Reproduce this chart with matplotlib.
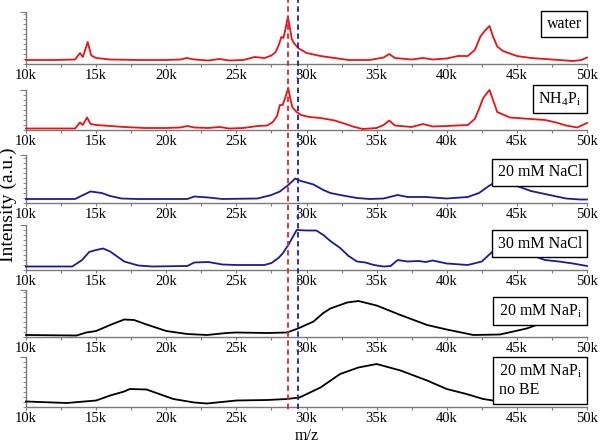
import matplotlib
matplotlib.use("Agg")
import matplotlib.pyplot as plt
from matplotlib.ticker import MultipleLocator, FuncFormatter, FixedLocator
from matplotlib.transforms import blended_transform_factory
import numpy as np

plt.rcParams['font.family'] = ['Liberation Serif', 'DejaVu Serif']
plt.rcParams['mathtext.fontset'] = 'stix'

# m/z in thousands, heights in units of 50 px above each panel's axis
waterX = [10.0, 12.0, 13.5, 13.85, 14.05, 14.4, 14.65, 15.0, 16.0, 18.0, 20.0, 21.0, 21.45, 22.0, 23.0, 23.8,
          24.5, 25.5, 26.3, 27.0, 27.5, 27.8, 28.05, 28.2, 28.35, 28.5, 28.67, 28.8, 28.95, 29.1, 29.4, 30.0,
          31.0, 32.0, 33.0, 34.5, 35.5, 35.9, 36.3, 37.5, 38.3, 39.0, 40.0, 40.8, 41.5, 42.0, 42.4, 42.7,
          43.05, 43.3, 43.6, 44.0, 45.0, 46.0, 47.0, 48.0, 49.0, 49.6, 50.0]
waterY = [0.08, 0.08, 0.09, 0.22, 0.14, 0.44, 0.17, 0.12, 0.09, 0.08, 0.08, 0.09, 0.12, 0.09, 0.07, 0.10,
          0.07, 0.08, 0.14, 0.12, 0.17, 0.24, 0.40, 0.54, 0.52, 0.70, 0.94, 0.75, 0.50, 0.42, 0.32, 0.22,
          0.16, 0.12, 0.08, 0.08, 0.13, 0.20, 0.12, 0.09, 0.12, 0.09, 0.11, 0.16, 0.16, 0.28, 0.55, 0.66,
          0.76, 0.55, 0.35, 0.26, 0.16, 0.12, 0.10, 0.08, 0.06, 0.08, 0.13]

nh4X = [10.0, 13.5, 13.85, 14.05, 14.35, 14.6, 15.0, 16.0, 17.0, 18.5, 20.0, 21.0, 21.5, 22.0, 23.0, 23.8,
        24.5, 25.5, 26.5, 27.2, 27.6, 27.9, 28.1, 28.3, 28.5, 28.7, 28.85, 29.0, 29.3, 29.6, 30.2, 31.0,
        32.0, 32.8, 33.3, 34.0, 35.0, 35.5, 35.9, 36.3, 37.5, 38.3, 39.0, 40.0, 41.5, 42.0, 42.3, 42.6,
        42.9, 43.05, 43.3, 43.6, 44.5, 46.0, 47.0, 47.8, 48.5, 49.3, 50.0]
nh4Y = [0.03, 0.03, 0.15, 0.10, 0.25, 0.12, 0.10, 0.08, 0.06, 0.04, 0.04, 0.05, 0.08, 0.05, 0.04, 0.06,
        0.03, 0.04, 0.08, 0.09, 0.16, 0.28, 0.50, 0.50, 0.66, 0.84, 0.62, 0.45, 0.36, 0.30, 0.26, 0.24,
        0.19, 0.12, 0.07, 0.02, 0.04, 0.10, 0.19, 0.09, 0.06, 0.12, 0.07, 0.08, 0.10, 0.22, 0.42, 0.64,
        0.75, 0.80, 0.60, 0.36, 0.25, 0.22, 0.20, 0.15, 0.09, 0.05, 0.14]

nacl20X = [10.0, 13.5, 14.0, 14.6, 15.4, 16.0, 16.8, 18.0, 21.5, 22.0, 23.0, 24.0, 26.5, 27.5, 28.1, 28.7,
           29.2, 29.6, 30.0, 30.5, 31.2, 31.7, 32.4, 33.6, 34.5, 35.5, 36.5, 37.2, 38.5, 40.0, 41.5, 42.3,
           43.0, 43.7, 44.4, 45.0, 46.0, 47.5, 48.5, 49.5, 50.0]
nacl20Y = [0.08, 0.08, 0.15, 0.23, 0.20, 0.14, 0.09, 0.08, 0.08, 0.13, 0.11, 0.08, 0.09, 0.16, 0.23, 0.36,
           0.49, 0.44, 0.41, 0.37, 0.26, 0.20, 0.16, 0.10, 0.08, 0.09, 0.16, 0.12, 0.12, 0.09, 0.12, 0.20,
           0.34, 0.46, 0.38, 0.34, 0.24, 0.15, 0.09, 0.07, 0.07]

nacl30X = [10.0, 13.3, 14.0, 14.5, 15.0, 15.5, 16.0, 17.0, 18.0, 19.0, 21.5, 22.0, 23.0, 24.0, 25.0, 27.0,
           27.5, 28.0, 28.3, 28.7, 29.3, 30.0, 30.7, 31.2, 31.7, 32.4, 33.0, 33.6, 34.2, 34.8, 35.5, 36.0,
           36.5, 37.2, 38.0, 38.5, 39.0, 40.0, 41.5, 42.5, 43.0, 44.0, 45.0, 46.0, 47.0, 48.0, 49.0, 50.0]
nacl30Y = [0.07, 0.07, 0.20, 0.36, 0.40, 0.43, 0.37, 0.17, 0.09, 0.07, 0.08, 0.15, 0.16, 0.11, 0.10, 0.10,
           0.14, 0.24, 0.33, 0.50, 0.80, 0.79, 0.79, 0.70, 0.58, 0.44, 0.28, 0.17, 0.15, 0.10, 0.07, 0.08,
           0.20, 0.17, 0.18, 0.16, 0.19, 0.13, 0.10, 0.17, 0.30, 0.55, 0.52, 0.30, 0.20, 0.17, 0.13, 0.08]

napiX = [10.0, 13.6, 14.3, 15.0, 16.0, 17.0, 17.7, 18.6, 20.0, 21.5, 22.9, 24.3, 25.0, 27.2, 28.6, 29.4,
         30.5, 31.2, 31.7, 32.4, 32.9, 33.7, 35.0, 36.7, 38.6, 40.0, 41.9, 43.8, 45.7, 46.7, 48.0, 50.0]
napiY = [0.04, 0.03, 0.09, 0.12, 0.24, 0.35, 0.34, 0.25, 0.12, 0.06, 0.04, 0.08, 0.09, 0.08, 0.09, 0.17,
         0.31, 0.48, 0.57, 0.64, 0.69, 0.72, 0.63, 0.44, 0.24, 0.15, 0.04, 0.05, 0.17, 0.27, 0.40, 0.55]

nobeX = [10.0, 12.9, 15.0, 16.0, 17.0, 17.4, 18.6, 19.6, 20.5, 22.0, 22.9, 25.0, 27.2, 28.6, 29.5, 31.0,
         32.4, 33.7, 35.0, 36.7, 38.6, 40.0, 41.4, 42.6, 44.0, 46.0, 48.0, 50.0]
nobeY = [0.11, 0.08, 0.13, 0.23, 0.31, 0.36, 0.35, 0.25, 0.16, 0.09, 0.07, 0.13, 0.14, 0.16, 0.19, 0.39,
         0.66, 0.79, 0.86, 0.73, 0.53, 0.36, 0.26, 0.16, 0.10, 0.15, 0.25, 0.36]

seriesX = [waterX, nh4X, nacl20X, nacl30X, napiX, nobeX]
seriesY = [waterY, nh4Y, nacl20Y, nacl30Y, napiY, nobeY]
labels = ["water", r"NH$_\mathregular{4}$P$_\mathregular{i}$", "20 mM NaCl", "30 mM NaCl",
          r"20 mM NaP$_\mathregular{i}$", "20 mM NaP$_\\mathregular{i}$\nno BE"]
colours = ["#ee1111", "#ee1111", "#1a1a9c", "#1a1a9c", "black", "black"]

vLinePositions = [28.7, 29.4]
vLineColours = ["#e02525", "#1f1fa8"]

# panel extents in pixels from top: (top, bottom); nudged up a little to leave room for m/z
shiftPx = 5
panelPx = [(17, 69), (95, 135), (160, 208), (230, 275), (295, 342), (362, 412)]
labelCentrePx = [29, 104, 177.5, 248.5, 316, 385.5]
W, H = 600, 443
left, right = 26, 587
unitPx = 50.0

fig = plt.figure(figsize=(6, 4.43), dpi=100)
axes = []
for i, (top, bottom) in enumerate(panelPx):
    top, bottom = top - shiftPx, bottom - shiftPx
    ax = fig.add_axes([left / W, 1 - bottom / H, (right - left) / W, (bottom - top) / H])
    ax.plot(seriesX[i], seriesY[i], color=colours[i], lw=1.3, clip_on=False, zorder=3)
    ax.set_xlim(10, 50)
    ax.set_ylim(0, (bottom - top) / unitPx)
    ax.patch.set_alpha(0)
    for s in ["top", "right"]:
        ax.spines[s].set_visible(False)
    for s in ["left", "bottom"]:
        ax.spines[s].set_color("#7a7a7a")
        ax.spines[s].set_linewidth(1.0)
    ax.xaxis.set_major_locator(MultipleLocator(5))
    ax.xaxis.set_minor_locator(MultipleLocator(2.5))
    ax.xaxis.set_major_formatter(FuncFormatter(lambda v, p: "%dk" % v))
    ax.tick_params(axis="x", which="both", direction="out", length=2.5, width=0.8, color="#7a7a7a",
                   labelsize=10.5, pad=1)
    ytop = (bottom - top) / unitPx
    ax.yaxis.set_major_locator(FixedLocator([ytop]))
    ax.yaxis.set_minor_locator(FixedLocator(list(np.arange(0, ytop, 0.1))))
    ax.tick_params(axis="y", which="major", direction="out", length=4, width=0.8, color="#7a7a7a",
                   labelleft=False)
    ax.tick_params(axis="y", which="minor", direction="out", length=2, width=0.6, color="#7a7a7a")
    axes.append(ax)

    fig.text((right - 5) / W, 1 - (labelCentrePx[i] - shiftPx) / H, labels[i], ha="right", va="center",
             multialignment="left", fontsize=11.5, zorder=5,
             bbox=dict(boxstyle="square,pad=0.33", fc="white", ec="black", lw=1.0))

fig.text((left + right) / 2 / W, 1 - 439.7 / H, "m/z", ha="center", va="baseline", fontsize=11.5)
fig.text(8 / W, 1 - 205 / H, "Intensity (a.u.)", rotation=90, ha="center", va="center", fontsize=14)

# dashed markers across all panels
trans = blended_transform_factory(axes[-1].transData, fig.transFigure)
for pos, colour in zip(vLinePositions, vLineColours):
    fig.add_artist(plt.Line2D([pos, pos], [1 - (414 - shiftPx) / H, 1.0], transform=trans, color=colour,
                              lw=1.3, linestyle=(0, (3, 2)), zorder=4))

fig.savefig("out.png", dpi=100)
